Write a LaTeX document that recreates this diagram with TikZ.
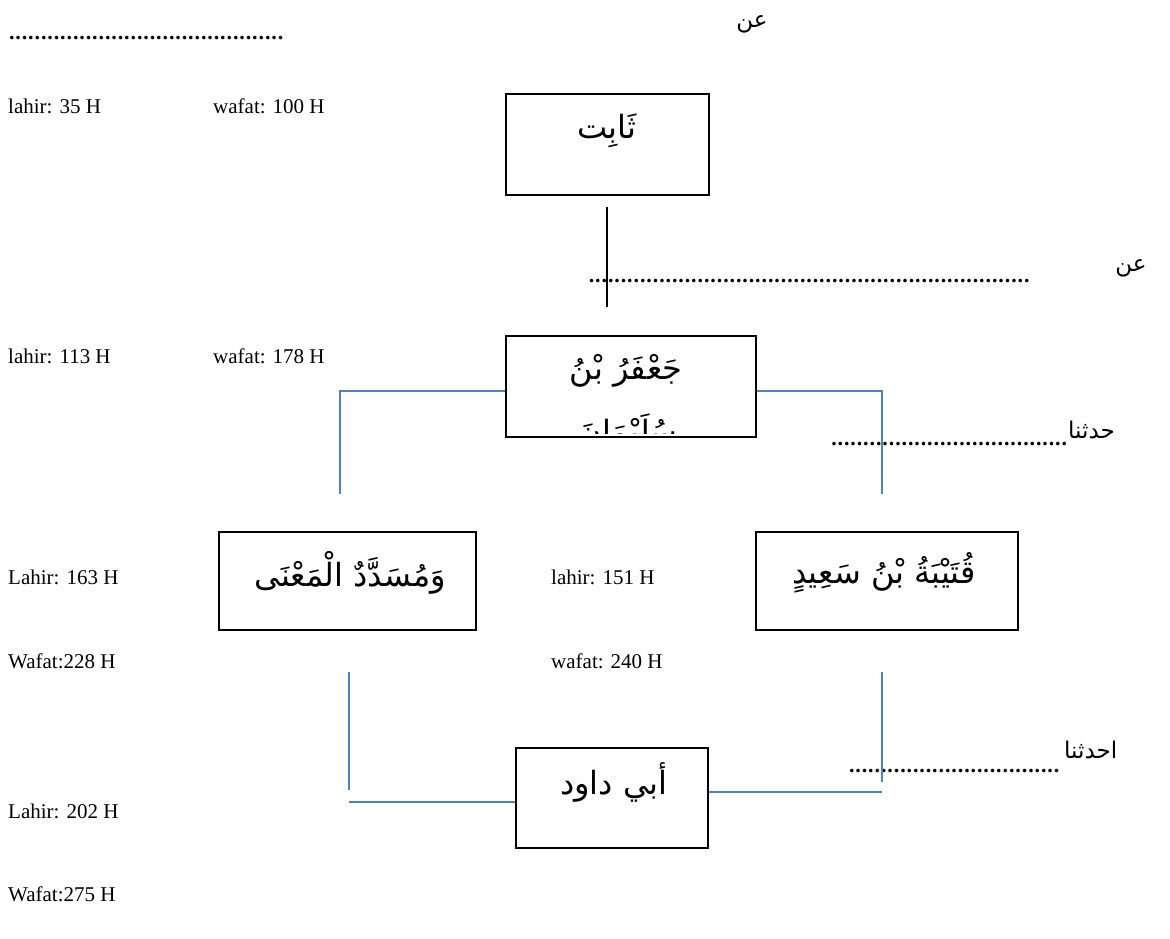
\documentclass[tikz,border=0pt]{standalone}
\usepackage{fontspec}
\setmainfont{Liberation Serif}
\newfontfamily\arabicfont[Script=Arabic]{DejaVu Sans}
\TeXXeTstate=1
\definecolor{linkblue}{HTML}{4F81BD}
\newcommand\dotrow[1]{\hbox to #1pt{\cleaders\hbox to 6.4pt{\hss.\hss}\hfill}}
\begin{document}
\begin{tikzpicture}[x=1pt,y=-1pt,
  lat/.style={font=\fontsize{21}{26}\selectfont, anchor=base west, inner sep=0pt},
  ar/.style={font=\arabicfont\fontsize{32}{38}\selectfont, inner sep=0pt},
  arsm/.style={font=\arabicfont\fontsize{23}{28}\selectfont, inner sep=0pt},
  dots/.style={font=\bfseries\fontsize{22}{26}\selectfont, anchor=base west, inner sep=0pt},
  namebox/.style={draw, line width=1.3pt, inner sep=0pt},
  link/.style={draw=linkblue, line width=1.6pt},
  stem/.style={draw=black, line width=1.3pt}]
\useasboundingbox (0,0) rectangle (1170,938);
% boxes
\node[namebox, minimum width=203pt, minimum height=101pt] (tsabit) at (607.5,144.5) {};
\node[namebox, minimum width=250pt, minimum height=101pt] (jaafar) at (631,386.5) {};
\node[namebox, minimum width=257pt, minimum height=98pt] (musaddad) at (347.5,581) {};
\node[namebox, minimum width=262pt, minimum height=98pt] (qutaibah) at (887,581) {};
\node[namebox, minimum width=192pt, minimum height=100pt] (daud) at (612,798) {};
% box texts
\node[ar] (tsabittxt) at (607,131) {\beginR ثَابِت\endR};
\node[ar] (jaafartxt) at (626,371) {\beginR جَعْفَرُ بْنُ\endR};
\begin{scope}
\clip (507,400) rectangle (755,433);
\node[ar] (jaafartxt2) at (628,431) {\beginR سُلَيْمَانَ\endR};
\end{scope}
\node[ar] (musaddadtxt) at (350,573) {\beginR وَمُسَدَّدٌ الْمَعْنَى\endR};
\node[ar] (qutaibahtxt) at (884,573) {\beginR قُتَيْبَةُ بْنُ سَعِيدٍ\endR};
\node[ar] (daudtxt) at (614,782) {\beginR أبي داود\endR};
% latin labels
\node[lat] (l1) at (8,113) {lahir: 35 H};
\node[lat] (w1) at (213,113) {wafat: 100 H};
\node[lat] (l2) at (8,363) {lahir: 113 H};
\node[lat] (w2) at (213,363) {wafat: 178 H};
\node[lat] (l3) at (8,584) {Lahir: 163 H};
\node[lat] (l4) at (551,584) {lahir: 151 H};
\node[lat] (w3) at (8,668) {Wafat:228 H};
\node[lat] (w4) at (551,668) {wafat: 240 H};
\node[lat] (l5) at (8,818) {Lahir: 202 H};
\node[lat] (w5) at (8,901) {Wafat:275 H};
% dotted rows and Arabic words
\node[dots] (d1) at (8,39) {\dotrow{276}};
\node[arsm] (an1) at (752,24) {\beginR عن\endR};
\node[dots] (d2) at (586,282) {\dotrow{446}};
\node[arsm] (an2) at (1131,268) {\beginR عن\endR};
\node[dots] (d3) at (830,445) {\dotrow{238}};
\node[arsm, anchor=west] (hd1) at (1068,430) {\beginR حدثنا\endR};
\node[dots] (d4) at (846,772) {\dotrow{216}};
\node[arsm, anchor=west] (hd2) at (1064,750) {\beginR احدثنا\endR};
% connectors
\coordinate (s1) at (607,207);
\coordinate (s2) at (607,307);
\draw[stem] (s1) -- (s2);
\coordinate (jl) at (340,391);
\coordinate (jlb) at (340,494);
\draw[link] ([yshift=-4.5pt]jaafar.west) -- (jl) -- (jlb);
\coordinate (jr) at (882,391);
\coordinate (jrb) at (882,494);
\draw[link] ([yshift=-4.5pt]jaafar.east) -- (jr) -- (jrb);
\coordinate (ml1) at (349,672);
\coordinate (ml2) at (349,790);
\draw[link] (ml1) -- (ml2);
\coordinate (ml3) at (349,802);
\draw[link] (ml3) -- (daud.west |- ml3);
\coordinate (qr1) at (882,672);
\coordinate (qr2) at (882,782);
\draw[link] (qr1) -- (qr2);
\coordinate (qr3) at (882,792);
\draw[link] (daud.east |- qr3) -- (qr3);
\end{tikzpicture}
\end{document}
